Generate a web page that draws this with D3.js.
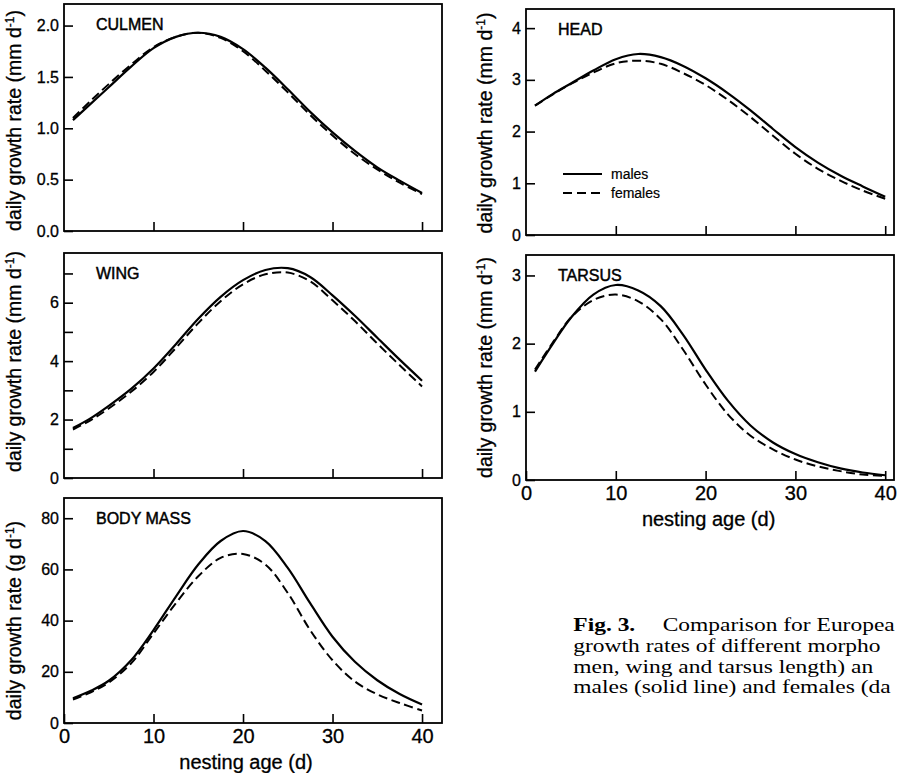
<!DOCTYPE html>
<html>
<head>
<meta charset="utf-8">
<script src="https://cdn.jsdelivr.net/npm/d3@7"></script>
<style>
  html, body { margin: 0; padding: 0; background: #fff; overflow: hidden; }
  svg { display: block; }
</style>
</head>
<body>
<div id="canvas"></div>
<script>
const ages = [1, 3, 5, 7.5, 10, 12.5, 15, 17.5, 20, 22.5, 25, 27.5, 30, 32.5, 35, 37.5, 40];

const culmenMales   = [1.08, 1.24, 1.40, 1.60, 1.78, 1.89, 1.93, 1.89, 1.77, 1.59, 1.38, 1.16, 0.96, 0.78, 0.62, 0.49, 0.37];
const culmenFemales = [1.10, 1.27, 1.43, 1.62, 1.79, 1.89, 1.93, 1.88, 1.75, 1.56, 1.35, 1.13, 0.93, 0.75, 0.60, 0.47, 0.36];

const headMales   = [2.50, 2.73, 2.93, 3.18, 3.40, 3.50, 3.44, 3.27, 3.03, 2.74, 2.41, 2.05, 1.70, 1.40, 1.15, 0.94, 0.74];
const headFemales = [2.50, 2.72, 2.92, 3.14, 3.32, 3.37, 3.31, 3.13, 2.90, 2.61, 2.28, 1.92, 1.57, 1.28, 1.05, 0.86, 0.70];

const wingMales   = [1.71, 2.05, 2.47, 3.05, 3.75, 4.58, 5.45, 6.20, 6.77, 7.12, 7.18, 6.88, 6.25, 5.55, 4.80, 4.05, 3.33];
const wingFemales = [1.66, 1.98, 2.38, 2.95, 3.63, 4.45, 5.30, 6.05, 6.63, 6.97, 7.03, 6.73, 6.08, 5.37, 4.60, 3.86, 3.13];

const tarsusMales   = [1.59, 2.00, 2.38, 2.72, 2.86, 2.78, 2.55, 2.13, 1.62, 1.16, 0.80, 0.55, 0.38, 0.26, 0.17, 0.11, 0.07];
const tarsusFemales = [1.62, 2.02, 2.38, 2.64, 2.72, 2.62, 2.36, 1.91, 1.40, 0.96, 0.65, 0.45, 0.30, 0.20, 0.13, 0.08, 0.06];

const massMales   = [9.7, 12.6, 16.5, 24.5, 36.3, 49.4, 61.9, 71.1, 75.0, 71.1, 60.6, 46.8, 33.7, 23.9, 16.7, 11.3, 7.2];
const massFemales = [9.2, 12.0, 15.8, 23.3, 35.0, 46.8, 57.3, 64.5, 66.0, 61.9, 50.8, 36.3, 24.5, 16.2, 11.2, 7.8, 4.9];

// tick values / labels
const xTicksTop = [10, 20, 30, 40];
const xTicksBottom = [0, 10, 20, 30, 40];
const culmenTicks = [0, 0.5, 1, 1.5, 2];
const headTicks = [0, 1, 2, 3, 4];
const wingTicks = [0, 1, 2, 3, 4, 5, 6, 7];
const tarsusTicks = [0, 1, 2, 3];
const massTicks = [0, 20, 40, 60, 80];

// caption as visible in the (cropped) figure
const captionLines = [
  ["Fig. 3.", "Comparison for Europea"],
  ["", "growth rates of different morpho"],
  ["", "men, wing and tarsus length) an"],
  ["", "males (solid line) and females (da"]
];

const W = 897, H = 773;
const SANS = "'Liberation Sans', Arial, Helvetica, sans-serif";
const SERIF = "'Liberation Serif', 'Times New Roman', serif";

let svg = d3.select("#canvas")
            .append("svg")
                .attr("width", W)
                .attr("height", H)
                .attr("viewBox", [0, 0, W, H]);

svg.append("rect").attr("width", W).attr("height", H).attr("fill", "#fff");

const panels = [
  {title: "CULMEN", unit: "mm", m: culmenMales, f: culmenFemales, yTicks: culmenTicks, yMax: 2.21,
   fmt: d3.format(".1f"), box: [64, 4, 442, 231], xMax: 42.23, labelX: 21, bottom: false, shift: 3},
  {title: "HEAD", unit: "mm", m: headMales, f: headFemales, yTicks: headTicks, yMax: 4.37,
   fmt: d3.format("d"), box: [526, 9, 894, 235], xMax: 40.98, labelX: 492, bottom: false, shift: 1, legend: true},
  {title: "WING", unit: "mm", m: wingMales, f: wingFemales, yTicks: wingTicks, yMax: 7.7,
   fmt: d => d % 2 === 0 ? d : "", box: [64, 253, 442, 478], xMax: 42.23, labelX: 21, bottom: false, shift: -4},
  {title: "TARSUS", unit: "mm", m: tarsusMales, f: tarsusFemales, yTicks: tarsusTicks, yMax: 3.3,
   fmt: d3.format("d"), box: [526, 255, 894, 480], xMax: 40.98, labelX: 492, bottom: true, shift: 0},
  {title: "BODY MASS", unit: "g", m: massMales, f: massFemales, yTicks: massTicks, yMax: 87.9,
   fmt: d3.format("d"), box: [64, 498, 442, 723], xMax: 42.23, labelX: 21, bottom: true, shift: 10}
];

panels.forEach(drawPanel);
drawCaption();

function drawPanel(p) {
  const [x0, y0, x1, y1] = p.box;
  const x = d3.scaleLinear().domain([0, p.xMax]).range([x0, x1]);
  const y = d3.scaleLinear().domain([0, p.yMax]).range([y1, y0]);
  const g = svg.append("g");

  // axes (ticks point inward)
  const gx = g.append("g")
      .attr("transform", "translate(0," + y1 + ")")
      .call(d3.axisBottom(x)
              .tickValues(p.bottom ? xTicksBottom : xTicksTop)
              .tickSize(-9)
              .tickPadding(6)
              .tickFormat(p.bottom ? d3.format("d") : () => ""));
  gx.select(".domain").remove();
  gx.selectAll("line").attr("stroke", "#000").attr("stroke-width", 1.6);
  gx.selectAll("text").attr("font-family", SANS).attr("font-size", 20)
      .attr("fill", "#000").attr("stroke", "#000").attr("stroke-width", 0.3);

  const gy = g.append("g")
      .attr("transform", "translate(" + x0 + ",0)")
      .call(d3.axisLeft(y)
              .tickValues(p.yTicks)
              .tickSize(-9)
              .tickPadding(5)
              .tickFormat(p.fmt));
  gy.select(".domain").remove();
  gy.selectAll("line").attr("stroke", "#000").attr("stroke-width", 1.6);
  gy.selectAll("text").attr("font-family", SANS).attr("font-size", 16)
      .attr("fill", "#000").attr("stroke", "#000").attr("stroke-width", 0.3);

  // frame
  g.append("rect")
      .attr("x", x0).attr("y", y0)
      .attr("width", x1 - x0).attr("height", y1 - y0)
      .attr("fill", "none").attr("stroke", "#000").attr("stroke-width", 1.8);

  // curves
  const line = d3.line()
      .x((d, i) => x(ages[i]))
      .y(d => y(d))
      .curve(d3.curveCatmullRom.alpha(0.5));

  g.append("path").datum(p.f)
      .attr("d", line).attr("fill", "none")
      .attr("stroke", "#000").attr("stroke-width", 2)
      .attr("stroke-dasharray", "9,4.5");
  g.append("path").datum(p.m)
      .attr("d", line).attr("fill", "none")
      .attr("stroke", "#000").attr("stroke-width", 2.2);

  // panel title
  g.append("text")
      .attr("x", x0 + 32).attr("y", y0 + 26)
      .attr("font-family", SANS).attr("font-size", 16)
      .attr("stroke", "#000").attr("stroke-width", 0.45)
      .text(p.title);

  // y axis title
  const t = g.append("text")
      .attr("transform", "translate(" + p.labelX + "," + ((y0 + y1) / 2 + p.shift) + ") rotate(-90)")
      .attr("text-anchor", "middle")
      .attr("font-family", SANS).attr("font-size", 19.5)
      .attr("stroke", "#000").attr("stroke-width", 0.3);
  t.append("tspan").text("daily growth rate (" + p.unit + " d");
  t.append("tspan").attr("dy", -7).attr("font-size", 12).text("-1");
  t.append("tspan").attr("dy", 7).text(")");

  if (p.bottom) {
    g.append("text")
        .attr("x", x(20) + 3).attr("y", y1 + 46)
        .attr("text-anchor", "middle")
        .attr("font-family", SANS).attr("font-size", 20)
        .attr("stroke", "#000").attr("stroke-width", 0.3)
        .text("nesting age (d)");
  }

  if (p.legend) {
    const lg = g.append("g").attr("transform", "translate(" + (x0 + 37) + "," + (y0 + 165) + ")");
    lg.append("line").attr("x1", 0).attr("x2", 39).attr("y1", 0).attr("y2", 0)
        .attr("stroke", "#000").attr("stroke-width", 2);
    lg.append("line").attr("x1", 0).attr("x2", 39).attr("y1", 19).attr("y2", 19)
        .attr("stroke", "#000").attr("stroke-width", 2).attr("stroke-dasharray", "9,5");
    lg.append("text").attr("x", 48).attr("y", 4.5)
        .attr("font-family", SANS).attr("font-size", 14)
        .attr("stroke", "#000").attr("stroke-width", 0.2).text("males");
    lg.append("text").attr("x", 48).attr("y", 23.5)
        .attr("font-family", SANS).attr("font-size", 14)
        .attr("stroke", "#000").attr("stroke-width", 0.2).text("females");
  }
}

function drawCaption() {
  const sx = 1.27;
  const cg = svg.append("g").attr("transform", "scale(" + sx + ",1)");
  captionLines.forEach((ln, i) => {
    const txt = cg.append("text")
        .attr("y", 631 + i * 20.8)
        .attr("font-family", SERIF).attr("font-size", 18.5)
        .attr("fill", "#000");
    if (ln[0]) {
      txt.append("tspan").attr("x", 573.3 / sx).attr("font-weight", "bold").text(ln[0]);
      txt.append("tspan").attr("x", 662.7 / sx).text(ln[1]);
    } else {
      txt.append("tspan").attr("x", 573.3 / sx).text(ln[1]);
    }
  });
}
</script>
</body>
</html>
